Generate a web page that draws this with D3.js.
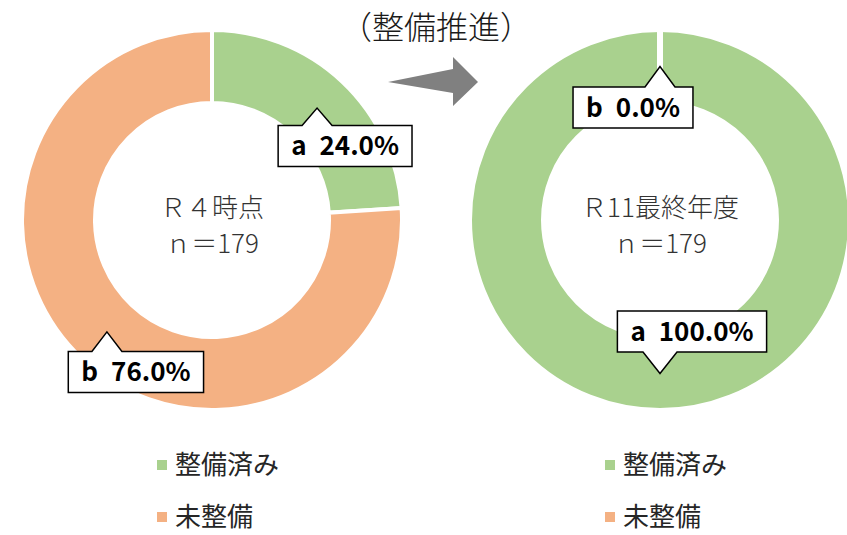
<!DOCTYPE html>
<html>
<head>
<meta charset="utf-8">
<script src="https://cdn.jsdelivr.net/npm/d3@7"></script>
<style>
  body { margin: 0; background: #fff; }
  text { font-family: "Noto Sans CJK JP", sans-serif; }
</style>
</head>
<body>
<svg id="chart" width="847" height="535"></svg>
<script>
const categories = ['整備済み', '未整備'];
const labelKeys = ['a', 'b'];
const colors = ['#a9d18e', '#f4b183'];
const r4Values = [24.0, 76.0];
const r11Values = [100.0, 0.0];
const centerTitles = ['Ｒ４時点', 'Ｒ11最終年度'];
const centerCounts = ['ｎ＝179', 'ｎ＝179'];

const svg = d3.select('#chart');
const outerR = 190;
const innerR = 117;

// title
svg.append('text')
  .attr('x', 436).attr('y', 39)
  .attr('text-anchor', 'middle')
  .attr('font-size', 32)
  .attr('font-weight', 300)
  .attr('fill', '#1a1a1a')
  .text('（整備推進）');

// arrow
const arrowLine = d3.line();
svg.append('path')
  .attr('d', arrowLine([[388, 82], [453, 69], [453, 57], [478, 82], [453, 106], [453, 93]]) + 'Z')
  .attr('fill', '#808080');

const pie = d3.pie().sort(null).value(d => d);
const arc = d3.arc().innerRadius(innerR).outerRadius(outerR);

// label box offsets relative to the arc centroid, per chart and slice
const boxOffsets = [
  [[28, 38], [29, 40]],
  [[32, -42], [-27, 41]]
];

function drawDonut(cx, values, chartIdx) {
  const g = svg.append('g').attr('transform', `translate(${cx},220)`);
  const arcs = pie(values);

  g.selectAll('path.slice')
    .data(arcs)
    .join('path')
    .attr('class', 'slice')
    .attr('d', arc)
    .attr('fill', (d, i) => colors[i])
    .attr('stroke', '#fff')
    .attr('stroke-width', 4)
    .attr('stroke-linejoin', 'miter');

  // zero-size slices drawn again so their white border sits on top
  g.selectAll('path.zero')
    .data(arcs.filter(d => d.value === 0))
    .join('path')
    .attr('d', arc)
    .attr('fill', 'none')
    .attr('stroke', '#fff')
    .attr('stroke-width', 6);

  g.append('text')
    .attr('x', 0).attr('y', -3)
    .attr('text-anchor', 'middle')
    .attr('font-size', 26)
    .attr('font-weight', 300)
    .attr('fill', '#333')
    .text(centerTitles[chartIdx]);
  g.append('text')
    .attr('x', 0).attr('y', 33)
    .attr('text-anchor', 'middle')
    .attr('font-size', 26)
    .attr('font-weight', 300)
    .attr('fill', '#333')
    .text(centerCounts[chartIdx]);

  // callouts
  arcs.forEach((d, i) => {
    const [tx, ty] = arc.centroid(d);
    const [ox, oy] = boxOffsets[chartIdx][i];
    const bx = tx + ox, by = ty + oy;
    const lg = g.append('g');
    const txt = lg.append('text')
      .attr('x', bx).attr('y', by + 9)
      .attr('text-anchor', 'middle')
      .attr('font-size', 26)
      .attr('font-weight', 'bold')
      .attr('fill', '#000')
      .text(`${labelKeys[i]}\u2002${d3.format('.1f')(d.data)}%`);
    const w = txt.node().getComputedTextLength() + 26;
    const h = 41;
    const x0 = bx - w / 2, x1 = bx + w / 2;
    const y0 = by - h / 2, y1 = by + h / 2;
    let pts;
    if (ty < y0) {
      pts = [[x0, y0], [tx - 15, y0], [tx, ty], [tx + 15, y0], [x1, y0], [x1, y1], [x0, y1]];
    } else {
      pts = [[x0, y0], [x1, y0], [x1, y1], [tx + 17, y1], [tx, ty], [tx - 17, y1], [x0, y1]];
    }
    lg.insert('path', 'text')
      .attr('d', arrowLine(pts) + 'Z')
      .attr('fill', '#fff')
      .attr('stroke', '#000')
      .attr('stroke-width', 1.5);
  });

  // legend
  const lgd = svg.append('g').attr('transform', `translate(${cx - 55},0)`);
  categories.forEach((c, i) => {
    const y = 465 + i * 52;
    lgd.append('rect')
      .attr('x', 0).attr('y', y - 5)
      .attr('width', 10).attr('height', 10)
      .attr('fill', colors[i]);
    lgd.append('text')
      .attr('x', 18).attr('y', y + 9)
      .attr('font-size', 26)
      .attr('fill', '#262626')
      .text(c);
  });
}

drawDonut(212, r4Values, 0);
drawDonut(660, r11Values, 1);
</script>
</body>
</html>
